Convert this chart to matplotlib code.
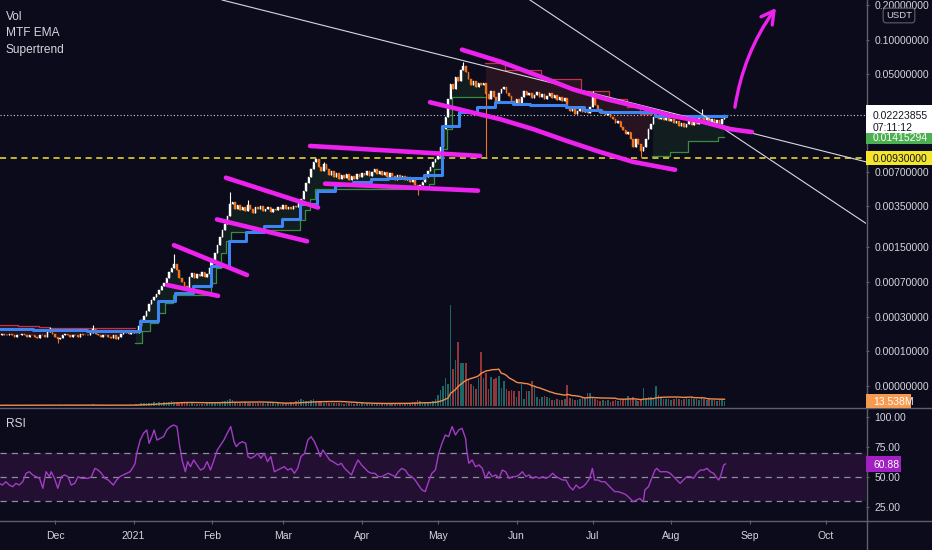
import numpy as np
import pandas as pd
import matplotlib
matplotlib.use("Agg")
import matplotlib.pyplot as plt
from matplotlib.patches import Rectangle
from matplotlib.lines import Line2D
from matplotlib.ticker import FixedLocator, NullLocator

# ---------------- data (daily candles, day 0 = 2020-11-09) ----------------
closes = [
    # Nov - Dec 2020
    0.000179,0.000185,0.000174,0.000179,0.000185,0.000174,0.000168,0.000179,0.000174,0.000185,
    0.000174,0.000168,0.000179,0.000174,0.000168,0.000163,0.000174,0.000179,0.000168,0.000196,
    0.000202,0.000185,0.000168,0.000158,0.000163,0.000174,0.000185,0.000174,0.000168,0.000174,
    0.000179,0.000168,0.000185,0.000179,0.000174,0.000179,0.000190,0.000214,0.000185,0.000174,
    0.000168,0.000174,0.000179,0.000168,0.000163,0.000174,0.000158,0.000168,0.000185,0.000196,
    0.000190,0.000185,0.000190,0.000196,
    # Jan - early Feb 2021
    0.000190,0.000234,0.000276,0.000307,0.000349,0.000416,0.000458,0.000492,0.000529,0.000581,
    0.000637,0.000682,0.000763,0.000872,0.000952,0.001039,0.000911,0.000763,0.000697,0.000637,
    0.000608,0.000780,0.000853,0.000763,0.000834,0.000798,0.000872,0.000780,0.000834,0.000952,
    0.001133,0.001316,0.001559,0.001844,0.002133,0.002415,0.002846,0.003712,0.003866,
    # Feb - mid Mar
    0.003352,0.003637,0.003218,0.003492,0.003153,0.003637,0.003352,0.003027,0.003422,0.003285,
    0.003564,0.003153,0.003352,0.003492,0.003090,0.003352,0.003218,0.003492,0.003285,0.003637,
    0.003352,0.003492,0.003285,0.003564,0.003422,0.003788,0.004108,0.004830,0.005677,0.006407,
    0.007524,0.008657,0.009192,
    # mid Mar - Apr
    0.00783,0.00723,0.00832,0.00752,0.00667,0.00723,0.00641,0.00694,0.00615,0.00667,
    0.00628,0.00680,0.00603,0.00654,0.00615,0.00680,0.00641,0.00694,0.00667,0.00723,
    0.00654,0.00708,0.00752,0.00680,0.00723,0.00667,0.00708,0.00641,0.00694,0.00654,
    0.00603,0.00667,0.00615,0.00654,0.00603,0.00641,0.00579,0.00615,0.00545,0.00503,
    0.00545,0.00579,0.00641,0.00723,0.00783,0.00866,0.00919,
    # May - Aug
    0.00976,0.01168,0.01673,0.02125,0.03040,0.04094,0.03707,0.04704,0.04345,0.05514,
    0.05969,0.05300,0.04521,0.04014,0.04345,0.03857,0.04176,0.04014,0.04176,0.03357,
    0.03040,0.03563,0.03163,0.02921,0.03424,0.03707,0.03857,0.03424,0.03226,0.02921,
    0.02752,0.03040,0.02698,0.03163,0.03563,0.03291,0.03424,0.03101,0.03291,0.03493,
    0.03163,0.03357,0.03040,0.03226,0.03424,0.03101,0.03291,0.02980,0.03163,0.02921,
    0.03101,0.02593,0.02394,0.02491,0.02255,0.02394,0.02593,0.02347,0.02491,0.02301,
    0.02593,0.03163,0.02698,0.02491,0.02301,0.02394,0.02211,0.02347,0.02125,0.02042,
    0.01886,0.01962,0.01741,0.01640,0.01515,0.01576,0.01371,0.01168,0.01371,0.01241,
    0.01079,0.01168,0.01371,0.01673,0.01848,0.02125,0.02211,0.02042,0.02125,0.02002,
    0.02125,0.01962,0.02042,0.01886,0.01962,0.01776,0.01886,0.01741,0.01848,0.01962,
    0.01812,0.01924,0.01848,0.02083,0.02168,0.02002,0.02083,0.01924,0.02042,0.01886,
    0.02002,0.01848,0.02042,0.02224,
]

wick_hi_days = [20, 37, 69, 83, 91, 98, 128, 183, 234, 277]
wick_hi_vals = [0.000227, 0.000240, 0.00129, 0.00118, 0.00473, 0.00395, 0.00866, 0.0646, 0.0356, 0.0249]
wick_lo_days = [23, 74, 165, 192, 253]
wick_lo_vals = [0.000138, 0.00058, 0.00446, 0.00957, 0.00957]

volume_m = [
    2.0,1.8,2.5,1.6,2.2,1.9,2.8,1.7,2.1,2.4, 1.9,2.6,2.0,1.8,2.3,3.0,2.1,1.9,2.2,3.5,
    4.0,2.5,2.0,3.2,2.4,1.8,2.0,2.2,1.9,2.1, 1.7,2.3,2.5,2.0,1.8,2.2,2.6,4.5,2.4,2.0,
    1.9,2.1,2.3,1.8,2.0,2.7,2.2,1.9,2.4,3.0, 2.6,2.2,2.5,
    3.5,5.0,6.5,7.0,8.5,9.0,7.5,8.0,9.5,8.0, 10.0,9.0,11.0,12.0,10.5,14.0,12.0,10.0,9.0,8.5,
    11.0,7.5,6.5,7.0,6.0,6.5,5.5,6.0,6.5,8.0, 9.0,10.0,11.5,12.0,11.0,13.0,14.0,16.0,18.0,15.0,
    12,10,9,8,9.5,8,7.5,9,8,7, 8.5,7,6.5,7.5,8,7,6.5,7,6,7.5, 8,9,10,12,14,16,18,15,13,14,
    16,18,14,12,10,9,11,8.5,9,8, 7.5,8,7,6.5,7,8,7.5,6,7,6.5, 7,6,7.5,6.5,6,7,8,6.5,7,6,
    6.5,7,8,9,7,6.5,7.5,8,9,8.5, 10,12,15,13,11,9,10,12,14,18,
    30,42,55,75,60,272,100,125,172,115, 117,117,70,60,54,46,76,146,76,89,
    46,78,73,76,81,49,68,46,40,43, 40,24,40,60,19,40,40,68,54,24,
    19,24,27,24,22,16,16,19,16,16, 19,57,22,19,16,16,19,22,22,35,
    35,22,18,15,14,16,13,15,12,14, 16,13,15,18,20,27,22,24,16,14,
    20,49,22,25,24,22,54,30,24,20, 18,19,17,18,21,19,16,18,22,20,
    25,18,20,17,24,19,16,18,15,17, 14,16,15,13.538,
]

# weekly MTF EMA (one value per week, weeks start on day 0)
ema_weekly = [
    0.000214,0.000214,0.000208,0.000208,0.000208,0.000202,0.000202,0.000202,0.000268,0.000447,
    0.000541,0.000637,0.000995,0.001696,0.002046,0.002317,0.002676,0.003712,0.004830,0.005453,
    0.005792,0.006153,0.006279,0.006279,0.006669,0.017764,0.023470,0.025928,0.028634,0.027519,
    0.026979,0.026979,0.025928,0.024423,0.023470,0.023470,0.023470,0.021676,0.021676,0.021676,
    0.021676,
]

# Supertrend segments: start day, level, direction (1 up / -1 down)
st_start = [0, 8, 16, 20, 54, 57, 60, 63, 66, 69, 84, 86, 88, 90, 92, 100, 119, 121, 123, 125,
            170, 172, 175, 177, 179, 192, 200, 214, 230, 241, 248, 253, 258, 265, 272, 284]
st_level = [0.000240, 0.000234, 0.000227, 0.000221,
            0.000138, 0.000202, 0.000254, 0.000332, 0.000426, 0.000516, 0.000682, 0.000952,
            0.001316, 0.001696, 0.002046, 0.002133, 0.002622, 0.003218, 0.004108, 0.005030,
            0.005563, 0.007524, 0.011227, 0.016734, 0.031626,
            0.063352, 0.055138, 0.045208, 0.035628, 0.030395, 0.025928, 0.022554,
            0.009761, 0.010574, 0.013174, 0.014153]
st_dir = [-1] * 4 + [1] * 21 + [-1] * 7 + [1] * 4

rsi_days = [0.0,1.3,2.6,4.0,5.3,6.6,7.9,9.3,10.6,11.9,13.2,14.6,15.9,17.2,18.5,19.8,20.5,21.8,23.1,24.5,
    25.8,27.1,28.4,29.8,31.1,32.4,33.7,35.1,36.4,37.7,39.0,40.3,41.7,43.0,45.0,46.3,47.6,48.9,50.3,51.6,
    52.9,53.6,54.2,55.6,56.9,58.2,59.1,60.2,61.1,62.2,63.5,64.8,66.1,67.5,68.8,70.1,71.0,72.1,73.4,74.3,
    75.4,76.7,78.0,79.4,80.7,82.0,83.3,84.7,86.0,87.3,88.6,89.9,91.3,92.6,93.5,94.6,95.9,97.2,98.1,99.2,
    100.5,101.9,103.2,104.5,105.8,107.1,108.5,109.8,111.1,112.4,113.8,115.1,116.4,117.7,119.0,120.4,121.7,
    123.0,124.3,125.7,126.6,127.6,129.0,130.3,131.6,133.6,134.9,136.2,137.6,138.9,140.2,141.5,142.9,144.2,
    145.5,146.8,148.1,149.5,150.8,152.1,153.4,154.8,156.1,157.4,158.7,160.1,161.4,162.7,164.0,165.3,166.7,
    168.0,169.3,170.6,172.0,173.3,174.6,175.9,177.2,178.6,179.9,181.2,182.5,183.9,184.5,185.2,186.5,187.8,
    189.2,190.5,191.8,193.1,194.4,195.8,197.1,198.4,199.7,201.1,202.4,203.7,205.0,206.3,207.7,209.0,210.3,
    211.6,213.0,214.3,215.6,216.9,218.2,219.6,220.9,222.2,223.5,224.9,226.2,227.5,228.8,230.2,231.5,232.8,
    233.9,234.8,236.1,237.4,238.8,240.1,241.4,242.7,244.0,246.0,247.3,248.7,250.0,251.3,252.6,254.0,254.6,
    256.0,257.3,258.6,259.3,260.6,261.9,263.2,264.6,265.9,267.2,268.5,269.8,271.2,272.5,273.8,275.1,276.5,
    277.8,279.1,280.4,281.7,283.1,283.7,284.4,285.7,286.4]
rsi_vals = [44.7,43.3,46.1,43.3,41.9,44.7,43.3,46.1,53.1,54.4,51.7,50.3,48.9,40.6,54.4,50.3,54.4,48.9,40.6,50.3,
    51.7,50.3,43.3,44.7,50.3,48.9,48.9,48.9,50.3,57.2,55.8,53.1,48.9,47.5,43.3,47.5,50.3,51.7,53.1,54.4,
    58.6,61.4,69.7,80.8,86.4,89.2,78.1,83.6,89.2,80.8,82.2,83.6,89.2,92.0,93.3,92.0,78.1,64.2,54.4,62.8,
    58.6,64.2,60.0,55.8,57.2,62.8,55.8,64.2,72.5,76.7,80.8,86.4,92.0,79.4,75.3,78.1,79.4,78.1,67.0,65.6,
    67.0,69.7,65.6,69.7,62.8,67.0,54.4,55.8,57.2,58.6,55.8,57.2,53.1,57.2,67.0,69.7,80.8,
    83.6,79.4,72.5,67.0,72.5,68.3,64.2,62.8,60.0,61.4,57.2,54.4,51.7,58.6,64.2,60.0,57.2,
    54.4,53.1,53.1,50.3,50.3,51.7,53.1,51.7,50.3,54.4,57.2,55.8,51.7,50.3,47.5,43.3,39.2,
    37.8,46.1,53.1,55.8,69.7,78.1,85.0,83.6,92.0,85.0,89.2,90.6,82.2,69.7,61.4,64.2,58.6,
    60.0,57.2,48.9,54.4,50.3,51.7,48.9,55.8,54.4,48.9,50.3,50.3,51.7,54.4,50.3,51.7,48.9,
    50.3,48.9,50.3,48.9,50.3,53.1,50.3,48.9,47.5,47.5,42.0,39.2,43.3,40.6,41.9,44.7,48.9,
    57.2,47.5,47.5,46.1,46.1,43.3,40.6,37.8,37.8,36.4,35.0,32.2,29.4,30.8,32.2,29.4,39.2,
    41.9,48.9,55.8,57.2,54.4,54.4,54.4,53.1,50.3,47.5,44.7,47.5,50.3,50.3,48.9,53.1,55.8,
    55.8,57.2,54.4,53.1,48.9,47.5,50.3,60.0,60.88]

# hand-drawn lines (day, price)
magenta_lines = [
    ([68.9, 97.7], [0.00156, 0.000816]),
    ([66.2, 86.3], [0.000651, 0.000504]),
    ([89.4, 125.7], [0.006279, 0.003422]),
    ([85.9, 121.4], [0.002676, 0.001696]),
    ([122.6, 189.6], [0.011921, 0.00976]),
    ([128.5, 188.8], [0.005563, 0.004830]),
    ([182.5, 197.5, 213.3, 226.3, 239.7, 252.7, 265.7, 276.3, 288.2, 296.8],
     [0.08198, 0.06462, 0.04798, 0.03707, 0.03040, 0.02593, 0.02168, 0.01962, 0.01673, 0.01576]),
    ([169.9, 184.5, 197.5, 210.5, 223.9, 236.9, 249.9, 266.5],
     [0.02863, 0.02394, 0.02042, 0.01673, 0.01317, 0.01057, 0.00866, 0.007374]),
]
arrow_from = (290.1, 0.02593)
arrow_to = (306.3, 0.18845)
white_lines = [
    ([87.9, 341.8], [0.2210, 0.008657]),
    ([209.3, 341.8], [0.2210, 0.002465]),
]

price_now = 0.02223855
countdown = "07:11:12"
st_now = 0.01415294
level_line = 0.0093
vol_now = 13.538
rsi_now = 60.88

price_ticks = [0.2, 0.1, 0.05, 0.007, 0.0035, 0.0015, 0.0007, 0.0003, 0.0001, 0.0]
rsi_ticks = [100, 75, 50, 25]
month_days = [22, 53, 84, 112, 143, 173, 204, 234, 265, 296, 326]
month_labels = ["Dec", "2021", "Feb", "Mar", "Apr", "May", "Jun", "Jul", "Aug", "Sep", "Oct"]

# ---------------- figure ----------------
plt.rcParams['font.family'] = ['Liberation Sans', 'DejaVu Sans']
BG = '#0b0b1b'
TXT = '#d4d6dd'
GRID = '#5d606b'
MAG = '#ee22ee'
FS = 7.5
W, H = 932, 550
PR, MB, RT, RB = 866, 407, 408, 520

fig = plt.figure(figsize=(W / 100, H / 100), dpi=100, facecolor=BG)
ax = fig.add_axes([0, 1 - MB / H, PR / W, MB / H], facecolor=BG)
axr = fig.add_axes([0, 1 - RB / H, PR / W, (RB - RT) / H], facecolor=BG, sharex=ax)

OFF = 0.0001
ax.set_yscale('function', functions=(
    lambda p: np.log10(np.clip(np.asarray(p, float) + OFF, 1e-9, None)),
    lambda v: 10 ** np.asarray(v, float) - OFF))
ax.set_ylim(-0.0000342, 0.22102)
ax.set_xlim(0.315, 341.8)

n = len(closes)
days = np.arange(n)
c = np.array(closes)
o = np.r_[c[0], c[:-1]]
body_lo = np.minimum(o, c)
body_hi = np.maximum(o, c)
hi = body_hi.copy()
lo = body_lo.copy()
for d, v in zip(wick_hi_days, wick_hi_vals):
    hi[d] = max(hi[d], v)
for d, v in zip(wick_lo_days, wick_lo_vals):
    lo[d] = min(lo[d], v)
upc = c >= o

# supertrend
st = np.zeros(n)
sd = np.zeros(n)
bnd = st_start + [n]
for i in range(len(st_start)):
    st[bnd[i]:bnd[i + 1]] = st_level[i]
    sd[bnd[i]:bnd[i + 1]] = st_dir[i]
mid = (o + c) / 2
is_up = sd > 0
ax.fill_between(days, st, mid, where=is_up, step='mid', color='#4caf50', alpha=0.11, lw=0, zorder=1)
ax.fill_between(days, st, mid, where=~is_up, step='mid', color='#ff5252', alpha=0.12, lw=0, zorder=1)
ax.step(days, np.where(is_up, st, np.nan), where='mid', color='#388e3c', lw=0.9, zorder=2)
ax.step(days, np.where(~is_up, st, np.nan), where='mid', color='#c2334a', lw=0.9, zorder=2)

# reference lines
ax.axhline(level_line, color='#f5e52c', lw=1.1, dashes=(4, 3), zorder=3)
ax.axhline(price_now, color='#d0d0d8', lw=0.8, dashes=(1, 2), zorder=3)

# candles
ccol = np.where(upc, '#ffffff', '#f0741e')
ax.vlines(days, lo, hi, colors=ccol, lw=0.8, zorder=4)
ax.bar(days, body_hi - body_lo, bottom=body_lo, width=0.62, color=ccol, edgecolor=ccol, lw=0.3, zorder=4)

# MTF EMA
ema_d = np.repeat(ema_weekly, 7)[:n]
ax.step(np.r_[days, n] - 0.5, np.r_[ema_d, ema_d[-1]], where='post', color='#3d85f0', lw=2.2, zorder=5)

# drawings
for xs, ys in white_lines:
    ax.plot(xs, ys, color='#d8d8e0', lw=0.8, zorder=6)
for xs, ys in magenta_lines:
    ax.plot(xs, ys, color=MAG, lw=3.3, solid_capstyle='round', solid_joinstyle='round', zorder=7)
ax.annotate('', xy=arrow_to, xytext=arrow_from,
            arrowprops=dict(arrowstyle='->,head_length=0.9,head_width=0.5', color=MAG, lw=2.4,
                            connectionstyle='arc3,rad=-0.12', shrinkA=0, shrinkB=0), zorder=7)

# volume overlay
axv = ax.twinx()
axv.set_ylim(-2.7, 1096)
axv.axis('off')
vol = np.array(volume_m)
vol_ma = pd.Series(vol).rolling(20, min_periods=1).mean().values
vcol = np.where(upc, '#26a69a', '#ef5350')
axv.bar(days, vol, width=0.62, color=vcol, alpha=0.6, lw=0)
axv.plot(days, vol_ma, color='#f08c4a', lw=1.0)

# price axis
ax.yaxis.tick_right()
ax.yaxis.set_major_locator(FixedLocator(price_ticks))
ax.yaxis.set_minor_locator(NullLocator())
ax.set_yticklabels([f"{t:.8f}" for t in price_ticks])
ax.tick_params(axis='y', which='major', right=True, left=False, labelright=True, labelleft=False,
               length=2.5, width=0.8, color=GRID, labelcolor=TXT, labelsize=FS, pad=3.5)
ax.tick_params(axis='x', bottom=False, labelbottom=False)

# RSI pane
axr.set_ylim(14.17, 107.5)
axr.axhspan(30, 70, color='#9c27b0', alpha=0.16, lw=0)
for lv in (70, 50, 30):
    axr.axhline(lv, color='#8c8fa0', lw=0.9, dashes=(5, 4))
axr.plot(rsi_days, rsi_vals, color='#a23cc4', lw=1.0)
axr.yaxis.tick_right()
axr.set_yticks(rsi_ticks)
axr.set_yticklabels([f"{t:.2f}" for t in rsi_ticks])
axr.tick_params(axis='y', right=True, left=False, labelright=True, labelleft=False,
                length=2.5, width=0.8, color=GRID, labelcolor=TXT, labelsize=FS, pad=3.5)
axr.set_xticks(month_days)
axr.set_xticklabels(month_labels)
axr.tick_params(axis='x', length=3, width=0.8, color=GRID, labelcolor=TXT, labelsize=FS, pad=5)

for a in (ax, axr):
    for s in a.spines.values():
        s.set_visible(False)

# pane separators
fig.add_artist(Line2D([(PR + 0.5) / W] * 2, [0, 1], transform=fig.transFigure, color=GRID, lw=1))
fig.add_artist(Line2D([0, 1], [1 - 407.5 / H] * 2, transform=fig.transFigure, color=GRID, lw=1))
fig.add_artist(Line2D([0, 1], [1 - 520.5 / H] * 2, transform=fig.transFigure, color=GRID, lw=1))


def disp_y(a, v):
    return a.transData.transform((a.get_xlim()[0], v))[1]


def box(yc, up_, dn_, x1, fc, texts, tc):
    fig.add_artist(Rectangle((PR / W, (yc - dn_) / H), (x1 - PR) / W, (up_ + dn_) / H,
                             transform=fig.transFigure, fc=fc, ec='none', zorder=10))
    for i, t in enumerate(texts):
        fig.text(873 / W, (yc - 12 * i) / H, t, color=tc, fontsize=FS, ha='left',
                 va='center_baseline', zorder=11)


box(disp_y(ax, st_now), 7, 7, W, '#4caf50', [f"{st_now:.8f}"], 'white')
box(disp_y(ax, price_now), 10, 18, W, '#ffffff', [f"{price_now:.8f}", countdown], '#131722')
box(disp_y(ax, level_line), 7, 7, W, '#f5e52c', [f"{level_line:.8f}"], '#131722')
box(disp_y(axv, vol_now), 7, 7, 911, '#f59a4e', [f"{vol_now:.3f}M"], 'white')
box(disp_y(axr, rsi_now), 8, 8, 901, '#a21fc2', [f"{rsi_now:.2f}"], 'white')

fig.text(899 / W, 1 - 15.5 / H, 'USDT', ha='center', va='center', fontsize=6.8, color=TXT, zorder=12,
         bbox=dict(boxstyle='round,pad=0.3,rounding_size=0.3', fc=BG, ec=GRID, lw=0.8))

for i, t in enumerate(["Vol", "MTF EMA", "Supertrend"]):
    fig.text(6 / W, 1 - (17 + 16.5 * i) / H, t, color=TXT, fontsize=8.6, ha='left', va='center')
fig.text(6 / W, 1 - 424 / H, "RSI", color=TXT, fontsize=8.6, ha='left', va='center')

fig.savefig('out.png', dpi=100, facecolor=BG)
